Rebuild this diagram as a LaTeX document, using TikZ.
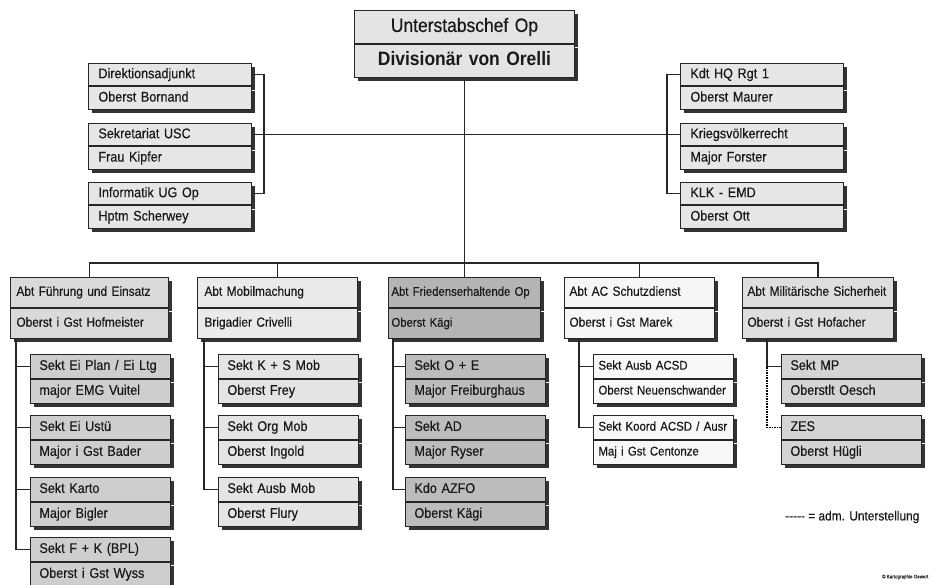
\documentclass[tikz,border=0pt]{standalone}
\usepackage{fontspec}
\setmainfont[FakeStretch=0.9, UprightFeatures={FakeBold=0.4}]{Liberation Sans}
\usepackage{xcolor}
\usepackage{tikz}
\usetikzlibrary{
  positioning,
  shadows,
  calc
}
\definecolor{gchef}{RGB}{228,228,228}
\definecolor{gstaff}{RGB}{230,230,230}
\definecolor{gfue}{RGB}{218,218,218}
\definecolor{gfuesub}{RGB}{206,206,206}
\definecolor{gmob}{RGB}{234,234,234}
\definecolor{gmobsub}{RGB}{228,228,228}
\definecolor{gfrd}{RGB}{180,180,180}
\definecolor{gfrdsub}{RGB}{188,188,188}
\definecolor{gacs}{RGB}{246,246,246}
\definecolor{gacssub}{RGB}{248,248,248}
\definecolor{gmil}{RGB}{222,222,222}
\definecolor{gmilsub}{RGB}{212,212,212}
\newcommand\fsz[1]{\fontsize{#1}{#1}\selectfont}

\begin{document}
\begin{tikzpicture}[
  x=1pt, y=-1pt,
  box/.style={draw=black!85, line width=0.9pt, anchor=north west,
              inner ysep=0pt, align=left, text=black!90,
              drop shadow={shadow xshift=4pt, shadow yshift=-4pt, fill=black!80, opacity=1}},
  chefrow/.style={box, fill=gchef, text width=212pt, inner xsep=4pt, align=center,
                  minimum height=33pt, text height=14pt, text depth=4pt, font=\fsz{19.4}},
  staff/.style={box, fill=gstaff, text width=143pt, inner xsep=10pt,
                minimum height=22.5pt, text height=10pt, text depth=3pt, font=\fsz{14}},
  dept/.style={box, fill=#1, minimum height=30pt, text height=9.5pt, text depth=2.8pt,
               font=\fsz{13.2}},
  sect/.style={box, fill=#1, text width=122pt, inner xsep=9pt,
               minimum height=24pt, text height=10pt, text depth=3pt, font=\fsz{14}},
  sectnarrow/.style={sect=#1, text width=130pt, inner xsep=5pt,
                     text height=9.1pt, text depth=2.7pt, font=\fsz{12.7}},
  link/.style={draw=black!85, line width=1.2pt},
  adm/.style={draw=black, line width=1.6pt, densely dotted}
]
  \fill[white] (0,0) rectangle (933,585);
  \useasboundingbox (0,0) rectangle (933,585);

  % Unterstabschef
  \node[chefrow] (chef) at (354,10) {Unterstabschef Op};
  \node[chefrow, below=0pt of chef, font=\fsz{19.4}\bfseries] (chef2) {Divisionär von Orelli};

  % Stab links
  \node[staff] (dir) at (88,63) {Direktionsadjunkt};
  \node[staff, below=0pt of dir] (dir2) {Oberst Bornand};
  \node[staff] (sek) at (88,123) {Sekretariat USC};
  \node[staff, below=0pt of sek] (sek2) {Frau Kipfer};
  \node[staff] (inf) at (88,182) {Informatik UG Op};
  \node[staff, below=0pt of inf] (inf2) {Hptm Scherwey};

  % Stab rechts
  \node[staff] (kdt) at (680,63) {Kdt HQ Rgt 1};
  \node[staff, below=0pt of kdt] (kdt2) {Oberst Maurer};
  \node[staff] (krv) at (680,123) {Kriegsvölkerrecht};
  \node[staff, below=0pt of krv] (krv2) {Major Forster};
  \node[staff] (klk) at (680,182) {KLK - EMD};
  \node[staff, below=0pt of klk] (klk2) {Oberst Ott};

  % Abteilungen
  \node[dept=gfue, text width=146pt, inner xsep=6pt] (fue) at (10,277) {Abt Führung und Einsatz};
  \node[dept=gfue, text width=146pt, inner xsep=6pt, below=0pt of fue] (fue2) {Oberst i Gst Hofmeister};
  \node[dept=gmob, text width=146pt, inner xsep=7pt] (mob) at (197,277) {Abt Mobilmachung};
  \node[dept=gmob, text width=146pt, inner xsep=7pt, below=0pt of mob] (mob2) {Brigadier Crivelli};
  \node[dept=gfrd, text width=146pt, inner xsep=3pt, font=\fsz{12.6}] (frd) at (388,277) {Abt Friedenserhaltende Op};
  \node[dept=gfrd, text width=146pt, inner xsep=3pt, font=\fsz{12.6}, below=0pt of frd] (frd2) {Oberst Kägi};
  \node[dept=gacs, text width=140pt, inner xsep=5pt] (acs) at (564,277) {Abt AC Schutzdienst};
  \node[dept=gacs, text width=140pt, inner xsep=5pt, below=0pt of acs] (acs2) {Oberst i Gst Marek};
  \node[dept=gmil, text width=141pt, inner xsep=5pt] (mil) at (742,277) {Abt Militärische Sicherheit};
  \node[dept=gmil, text width=141pt, inner xsep=5pt, below=0pt of mil] (mil2) {Oberst i Gst Hofacher};

  % Sektionen Führung und Einsatz
  \node[sect=gfuesub] (plan) at (30,354) {Sekt Ei Plan / Ei Ltg};
  \node[sect=gfuesub, below=0pt of plan] (plan2) {major EMG Vuitel};
  \node[sect=gfuesub] (ust) at (30,415) {Sekt Ei Ustü};
  \node[sect=gfuesub, below=0pt of ust] (ust2) {Major i Gst Bader};
  \node[sect=gfuesub] (karto) at (30,477) {Sekt Karto};
  \node[sect=gfuesub, below=0pt of karto] (karto2) {Major Bigler};
  \node[sect=gfuesub] (fk) at (30,537) {Sekt F + K (BPL)};
  \node[sect=gfuesub, below=0pt of fk] (fk2) {Oberst i Gst Wyss};

  % Sektionen Mobilmachung
  \node[sect=gmobsub] (ks) at (218,354) {Sekt K + S Mob};
  \node[sect=gmobsub, below=0pt of ks] (ks2) {Oberst Frey};
  \node[sect=gmobsub] (org) at (218,415) {Sekt Org Mob};
  \node[sect=gmobsub, below=0pt of org] (org2) {Oberst Ingold};
  \node[sect=gmobsub] (ausb) at (218,477) {Sekt Ausb Mob};
  \node[sect=gmobsub, below=0pt of ausb] (ausb2) {Oberst Flury};

  % Sektionen Friedenserhaltende Op
  \node[sect=gfrdsub] (oe) at (405,354) {Sekt O + E};
  \node[sect=gfrdsub, below=0pt of oe] (oe2) {Major Freiburghaus};
  \node[sect=gfrdsub] (ad) at (405,415) {Sekt AD};
  \node[sect=gfrdsub, below=0pt of ad] (ad2) {Major Ryser};
  \node[sect=gfrdsub] (azfo) at (405,477) {Kdo AZFO};
  \node[sect=gfrdsub, below=0pt of azfo] (azfo2) {Oberst Kägi};

  % Sektionen AC Schutzdienst
  \node[sectnarrow=gacssub] (acsd) at (593,354) {Sekt Ausb ACSD};
  \node[sectnarrow=gacssub, below=0pt of acsd] (acsd2) {Oberst Neuenschwander};
  \node[sectnarrow=gacssub] (koord) at (593,415) {Sekt Koord ACSD / Ausr};
  \node[sectnarrow=gacssub, below=0pt of koord] (koord2) {Maj i Gst Centonze};

  % Sektionen Militärische Sicherheit
  \node[sect=gmilsub] (mp) at (781,354) {Sekt MP};
  \node[sect=gmilsub, below=0pt of mp] (mp2) {Oberstlt Oesch};
  \node[sect=gmilsub] (zes) at (781,415) {ZES};
  \node[sect=gmilsub, below=0pt of zes] (zes2) {Oberst Hügli};

  % Verbindungen
  \draw[link] (chef2.south) -- (frd.north);
  \draw[link] (dir.east) -- ++(12,0) |- (inf.east);
  \draw[link] (kdt.west) -- ++(-13,0) |- (klk.west);
  \draw[link] (sek.east) -- (krv.west);
  \draw[link] (fue.north) -- ++(0,-14) -| (mil.north);
  \foreach \n in {mob,acs}
    \draw[link] (\n.north) -- ++(0,-14);

  \foreach \s in {plan,ust,karto,fk}
    \draw[link] (\s.west) -- ++(-14,0) coordinate (t) -- (t |- fue2.south);
  \foreach \s in {ks,org,ausb}
    \draw[link] (\s.west) -- ++(-14,0) coordinate (t) -- (t |- mob2.south);
  \foreach \s in {oe,ad,azfo}
    \draw[link] (\s.west) -- ++(-12,0) coordinate (t) -- (t |- frd2.south);
  \foreach \s in {acsd,koord}
    \draw[link] (\s.west) -- ++(-14,0) coordinate (t) -- (t |- acs2.south);
  \draw[link] (mp.west) -- ++(-14,0) coordinate (t) -- (t |- mil2.south);
  \draw[adm] (zes.west) -- ++(-14,0) coordinate (t) -- (t |- mp.west);

  % Legende
  \node[anchor=west, inner sep=0pt, font=\fsz{13.2}, text=black!90] (leg) at (785,517)
    {-{}-{}-{}-{}- = adm. Unterstellung};
  \node[anchor=west, inner sep=0pt, font=\fsz{5}, text=black!80] (copy) at (882,577)
    {\textcopyright\ Kartographie Gewert};
\end{tikzpicture}
\end{document}
